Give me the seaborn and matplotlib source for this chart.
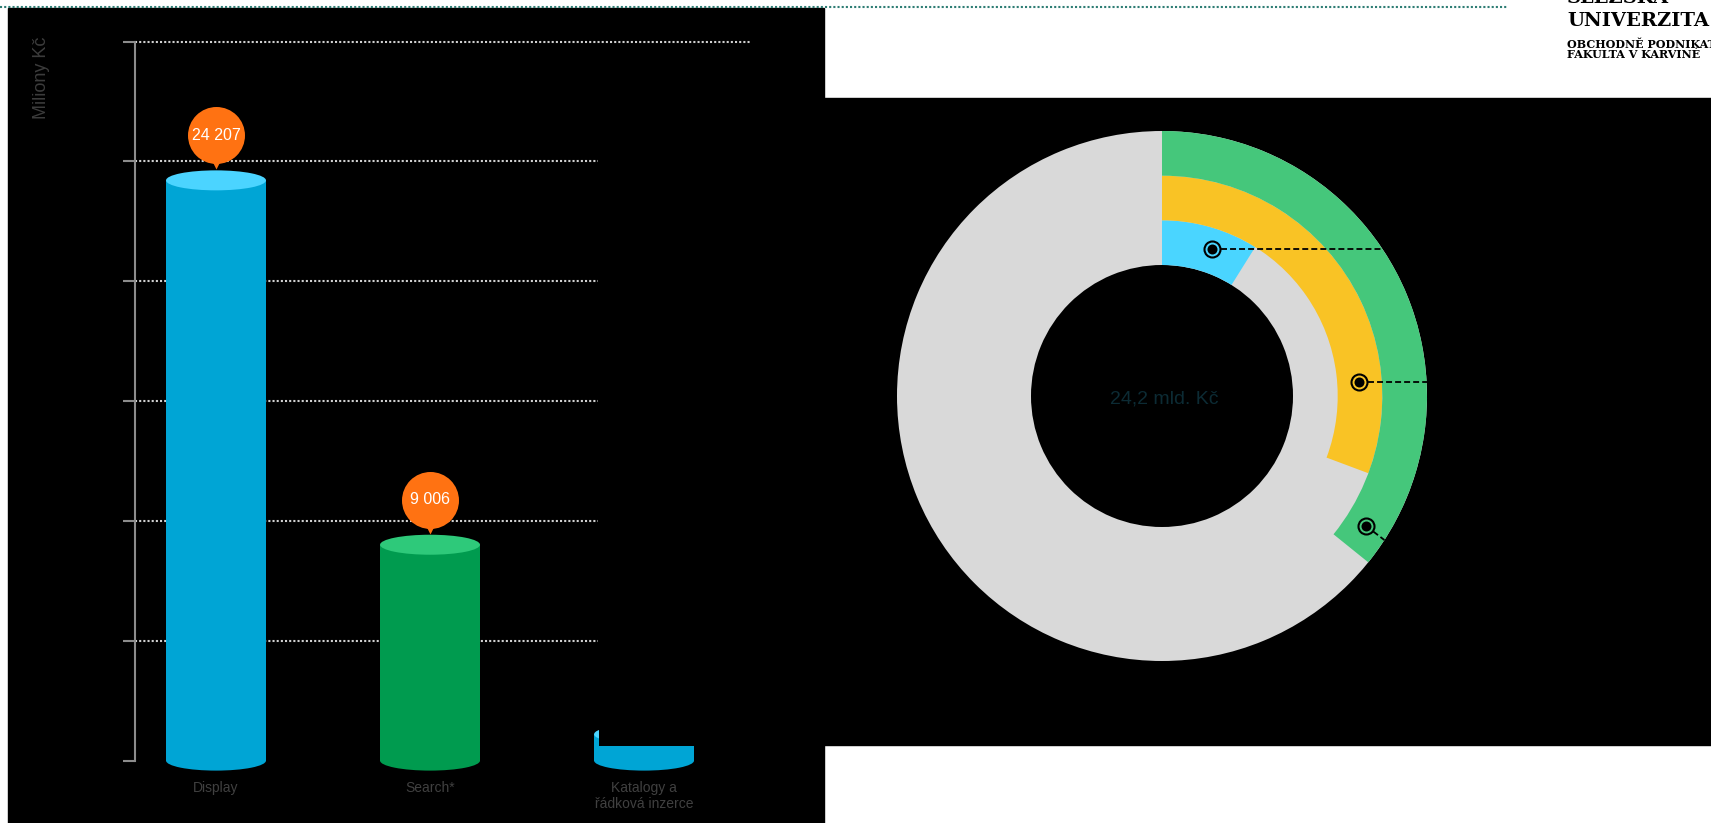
import numpy as np
import matplotlib
matplotlib.use("Agg")
import matplotlib.pyplot as plt
import matplotlib.transforms as mtransforms
from matplotlib.patches import Ellipse, Rectangle, Wedge
from matplotlib.lines import Line2D
import seaborn as sns

# ---- data -------------------------------------------------------------
categories = ["Display", "Search*", "Katalogy a\nřádková inzerce"]
spend_mil = [24207, 9006, 1100]
value_labels = ["24 207", "9 006", None]
body_colors = ["#00A5D5", "#009B4F", "#00A5D5"]
cap_colors = ["#4BD4FF", "#2EC97A", "#4BD4FF"]
y_ticks = [0, 5000, 10000, 15000, 20000, 25000, 30000]
y_label = "Miliony Kč"

ring_shares = [8.9, 30.7, 35.8]            # % of the full circle, inner -> outer
ring_colors = ["#4AD5FF", "#F9C325", "#45C77B"]
ring_background = "#D9D9D9"
center_label = "24,2 mld. Kč"

# ---- figure -----------------------------------------------------------
W, H, DPI = 1711, 823, 100
sns.set_theme(style="white")
plt.rcParams["font.family"] = ["Liberation Sans", "DejaVu Sans"]
fig = plt.figure(figsize=(W / DPI, H / DPI), dpi=DPI, facecolor="white")


def fx(x):
    return x / W


def fy(y):
    return 1 - y / H


def box(x0, y0, x1, y1):
    return [fx(x0), fy(y1), (x1 - x0) / W, (y1 - y0) / H]


# slide panels
fig.add_artist(Rectangle((fx(8), fy(823)), (824 - 8) / W, (823 - 8) / H,
                         transform=fig.transFigure, color="black", zorder=-2))
fig.add_artist(Rectangle((fx(824), fy(745)), (W - 824) / W, (745 - 98) / H,
                         transform=fig.transFigure, color="black", zorder=-2))
fig.add_artist(Line2D([0, fx(1507)], [fy(7), fy(7)], transform=fig.transFigure,
                      color="#2E7D74", lw=1.5, linestyle=(0, (1, 1)), zorder=-1))

# header text
logo_font = dict(family="DejaVu Serif", fontweight="bold", color="black",
                 ha="left", va="baseline")
fig.text(fx(1567), fy(3), "SLEZSKÁ", fontsize=14, **logo_font)
fig.text(fx(1567), fy(26), "UNIVERZITA", fontsize=14, **logo_font)
fig.text(fx(1567), fy(48), "OBCHODNĚ PODNIKATELSKÁ", fontsize=8, **logo_font)
fig.text(fx(1567), fy(58), "FAKULTA V KARVINÉ", fontsize=8, **logo_font)

# ---- cylinder bar chart -----------------------------------------------
ax = fig.add_axes(box(135, 41.5, 750, 760.6))
ax.set_facecolor("none")
sns.barplot(x=categories, y=spend_mil, hue=categories, palette=body_colors,
            width=0.467, saturation=1, legend=False, linewidth=0, ax=ax, zorder=2)
ax.set_xlim(-0.3785, 2.495)
ax.set_ylim(0, 30000)

ymax = y_ticks[-1]
ell_h = 20 * ymax / 719.1
for i, container in enumerate(ax.containers):
    for bar in container:
        cx = bar.get_x() + bar.get_width() / 2
        w = bar.get_width()
        h = bar.get_height()
        ax.add_patch(Ellipse((cx, 0), w, ell_h, color=body_colors[i],
                             lw=0, zorder=2, clip_on=False))
        ax.add_patch(Ellipse((cx, h), w, ell_h, color=cap_colors[i],
                             lw=0, zorder=3, clip_on=False))

# dotted guides
for t in y_ticks[1:-1]:
    ax.axhline(t, xmin=0, xmax=(598 - 135) / 615, color="#D0D0D0", lw=1.5,
               linestyle=(0, (1, 1)), zorder=0)
ax.axhline(y_ticks[-1], xmin=0, xmax=1, color="#D0D0D0", lw=1.5,
           linestyle=(0, (1, 1)), zorder=0, clip_on=False)

for side in ["top", "right", "bottom"]:
    ax.spines[side].set_visible(False)
ax.spines["left"].set_color("#8C8C8C")
ax.spines["left"].set_linewidth(1.5)
ax.set_yticks(y_ticks)
ax.tick_params(axis="y", direction="out", length=8.6, width=1.5,
               color="#8C8C8C", labelleft=False, left=True)
ax.tick_params(axis="x", length=0, pad=15, labelcolor="#404040", labelsize=10)
for lbl in ax.get_xticklabels():
    lbl.set_linespacing(1.15)
ax.grid(False)
ax.set_ylabel(y_label, color="#3C3C3C", fontsize=13)
ax.yaxis.set_label_coords((41 - 135) / 615, (760.6 - 78) / 719.1)
ax.yaxis.label.set_va("center")

# value bubbles
for i, (v, lab) in enumerate(zip(spend_mil, value_labels)):
    if lab is None:
        continue
    t_circle = mtransforms.offset_copy(ax.transData, fig=fig, x=0, y=45, units="dots")
    t_tip = mtransforms.offset_copy(ax.transData, fig=fig, x=0, y=18, units="dots")
    ax.scatter([i], [v], s=(57 * 0.72) ** 2, marker="o", color="#FF7212",
               linewidths=0, transform=t_circle, clip_on=False, zorder=5)
    ax.scatter([i], [v], s=(14 * 0.72) ** 2, marker="v", color="#FF7212",
               linewidths=0, transform=t_tip, clip_on=False, zorder=5)
    ax.text(i, v, lab, transform=t_circle, ha="center", va="center",
            color="white", fontsize=11.5, zorder=6)

# panel overlay covering the top of the last cylinder
fig.add_artist(Rectangle((fx(599), fy(746)), (705 - 599) / W, (746 - 690) / H,
                         transform=fig.transFigure, color="black", lw=0, zorder=10))

# ---- ring chart -------------------------------------------------------
ax2 = fig.add_axes(box(862, 96, 1462, 696))
ax2.set_xlim(-300, 300)
ax2.set_ylim(-300, 300)
ax2.set_aspect("equal")
ax2.axis("off")

edges = [131, 175.7, 220.3, 265]
ax2.add_patch(Wedge((0, 0), edges[-1], 0, 360, width=edges[-1] - edges[0],
                    color=ring_background, lw=0))
for k, (share, col) in enumerate(zip(ring_shares, ring_colors)):
    sweep = share / 100 * 360
    ax2.add_patch(Wedge((0, 0), edges[k + 1], 90 - sweep, 90,
                        width=edges[k + 1] - edges[k], color=col, lw=0, zorder=2))

# callout markers with dashed leaders
marker_pos = [(155, 19), (197, 86), (242, 122.5)]     # radius, degrees clockwise from top
leader_dir = [(1, 0), (1, 0), (17, -13)]
R = edges[-1]
for (r, a), (dx, dy), col in zip(marker_pos, leader_dir, ring_colors):
    th = np.deg2rad(a)
    mx, my = r * np.sin(th), r * np.cos(th)
    d = np.array([dx, dy], float)
    d /= np.linalg.norm(d)
    # distance along d to the outer rim
    b = mx * d[0] + my * d[1]
    c = mx ** 2 + my ** 2 - R ** 2
    t = -b + np.sqrt(b * b - c)
    ax2.plot([mx, mx + t * d[0]], [my, my + t * d[1]], color="black", lw=1.3,
             linestyle=(0, (3.3, 1.7)), zorder=3)
    ax2.scatter([mx], [my], s=(16 * 0.72) ** 2, facecolor=col, edgecolor="black",
                linewidths=1.5, zorder=4)
    ax2.scatter([mx], [my], s=(10 * 0.72) ** 2, color="black", linewidths=0, zorder=5)

ax2.text(2, -3, center_label, ha="center", va="center", color="#0C2B34", fontsize=14)

fig.savefig("out.png", dpi=DPI, facecolor="white")
